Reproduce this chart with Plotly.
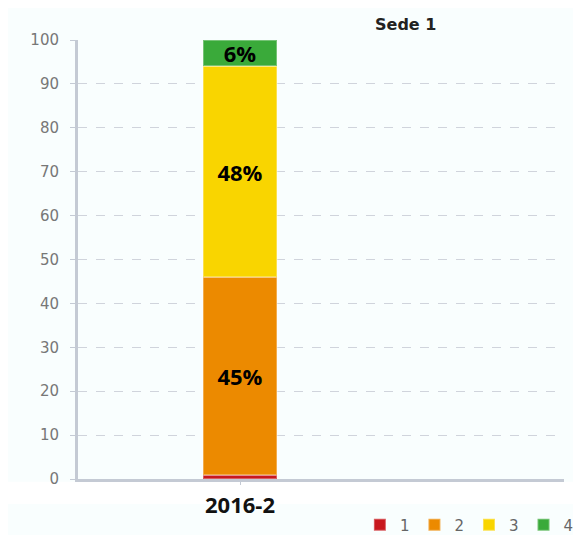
import plotly.graph_objects as go

categories = ["2016-2"]
series_names = ["1", "2", "3", "4"]
series_values = [[1], [45], [48], [6]]
series_labels = [[""], ["45%"], ["48%"], ["6%"]]
series_colors = ["#c8181e", "#ec8a00", "#f9d500", "#3aaa3a"]
y_ticks = [0, 10, 20, 30, 40, 50, 60, 70, 80, 90, 100]
title_text = "Sede 1"

# page body has an 8px margin; size the figure to fill the rest of the window
W, H = 573, 527
L, R, T, B = 70, 17, 32, 56

fig = go.Figure()
for name, vals, labs, col in zip(series_names, series_values, series_labels, series_colors):
    fig.add_trace(go.Bar(
        x=categories, y=vals, name=name,
        text=labs, texttemplate="%{text}",
        textposition="inside", insidetextanchor="middle", constraintext="none",
        textfont=dict(family="Open Sans", size=22, color="black", weight="bold"),
        marker=dict(color=col, line=dict(color="rgba(255,255,255,0.3)", width=2)),
        width=0.23,
    ))

fig.update_layout(
    width=W, height=H,
    barmode="stack",
    margin=dict(l=L, r=R, t=T, b=B, autoexpand=False),
    paper_bgcolor="#f9fefe",
    plot_bgcolor="#f9fefe",
    showlegend=True,
    legend=dict(orientation="h", x=0.58, xanchor="left", y=-0.105, yanchor="middle",
                font=dict(family="DejaVu Sans", size=15, color="#666"),
                bgcolor="rgba(0,0,0,0)", traceorder="normal"),
    shapes=[
        dict(type="rect", xref="paper", yref="paper", x0=-0.2, x1=1.1, y0=-0.006, y1=-0.057,
             fillcolor="white", line=dict(width=0), layer="below"),
    ],
    annotations=[
        dict(text=title_text, xref="paper", yref="paper", x=(405 - 78) / (W - L - R), y=1.035,
             xanchor="center", yanchor="middle", showarrow=False,
             font=dict(family="DejaVu Sans", size=16, color="#222", weight="bold")),
    ],
)
fig.update_xaxes(
    type="category", range=[-0.5, 1.0],
    showline=True, linecolor="#c4cad4", linewidth=3,
    ticks="outside", ticklen=3, tickcolor="#c4cad4",
    ticklabelstandoff=2,
    tickfont=dict(family="Open Sans", size=22, color="#111", weight="bold"),
    showgrid=False,
)
fig.update_yaxes(
    range=[0, 100], tickvals=y_ticks,
    showline=True, linecolor="#c4cad4", linewidth=3,
    ticks="outside", ticklen=5, tickcolor="#c4cad4",
    ticklabelstandoff=8,
    tickfont=dict(family="DejaVu Sans", size=15, color="#777"),
    showgrid=True, gridcolor="#d0d4dc", griddash="dash", gridwidth=1,
    zeroline=False,
)
fig.write_html("out.html")
